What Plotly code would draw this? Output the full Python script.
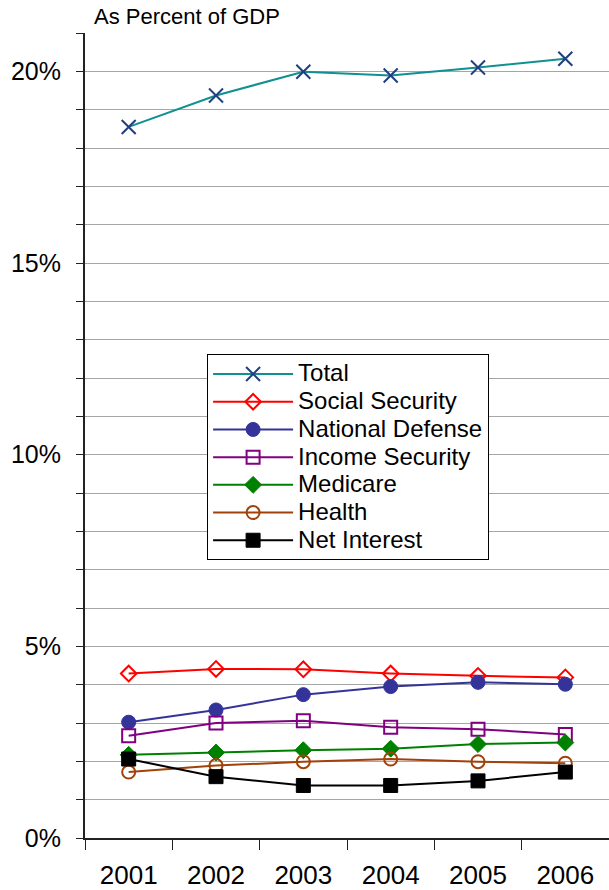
import plotly.graph_objects as go

years = ["2001", "2002", "2003", "2004", "2005", "2006"]
total = [18.55, 19.37, 19.99, 19.89, 20.10, 20.33]
social_security = [4.29, 4.41, 4.40, 4.29, 4.23, 4.19]
national_defense = [3.02, 3.34, 3.74, 3.95, 4.06, 4.01]
income_security = [2.67, 3.00, 3.06, 2.89, 2.84, 2.70]
medicare = [2.17, 2.23, 2.29, 2.33, 2.45, 2.49]
health = [1.72, 1.89, 1.99, 2.06, 1.99, 1.95]
net_interest = [2.06, 1.60, 1.37, 1.37, 1.49, 1.72]

y_tickvals = list(range(0, 22))
y_ticktext = [f"{v}%" if v % 5 == 0 and v <= 20 else "" for v in y_tickvals]

series = [
    ("Total", total, "#109090", dict(symbol="x-thin", size=14, color="#1F3F7F",
                                     line=dict(color="#1F3F7F", width=2))),
    ("Social Security", social_security, "#FF0000", dict(symbol="diamond-open", size=12, color="#FF0000",
                                                         line=dict(color="#FF0000", width=2))),
    ("National Defense", national_defense, "#333399", dict(symbol="circle", size=14, color="#333399",
                                                           line=dict(color="#333399", width=1))),
    ("Income Security", income_security, "#800080", dict(symbol="square-open", size=13, color="#800080",
                                                         line=dict(color="#800080", width=2))),
    ("Medicare", medicare, "#008000", dict(symbol="diamond", size=13, color="#008000",
                                           line=dict(color="#008000", width=1))),
    ("Health", health, "#A0420A", dict(symbol="circle-open", size=13, color="#A0420A",
                                       line=dict(color="#A0420A", width=2))),
    ("Net Interest", net_interest, "#000000", dict(symbol="square", size=14, color="#000000",
                                                   line=dict(color="#000000", width=1))),
]

fig = go.Figure()
for name, vals, lc, mk in series:
    fig.add_trace(go.Scatter(
        x=years, y=vals,
        name=f'<span style="font-size:24px">{name}</span>',
        mode="lines+markers",
        line=dict(color=lc, width=2), marker=mk,
    ))

fig.update_layout(
    width=609, height=890,
    margin=dict(l=85, r=0, t=33, b=52),
    paper_bgcolor="white", plot_bgcolor="white",
    font=dict(family="Liberation Sans, Arial, sans-serif", size=20, color="black"),
    showlegend=True,
    legend=dict(
        x=0.233, y=0.601, xanchor="left", yanchor="top",
        bgcolor="white", bordercolor="black", borderwidth=1,
        font=dict(size=19), tracegroupgap=0, itemwidth=80,
    ),
    annotations=[dict(
        text="As Percent of GDP", xref="paper", yref="paper",
        x=0.013, y=1, xanchor="left", yanchor="bottom", yshift=2,
        showarrow=False, font=dict(size=22, color="black"),
    )],
)

fig.update_xaxes(
    type="category", range=[-0.5, 5.5],
    tickson="boundaries", ticks="outside", ticklen=10, tickcolor="#222222",
    showline=True, linecolor="#222222", linewidth=2,
    showgrid=False, zeroline=False, ticklabelstandoff=13,
    tickfont=dict(size=26),
)
fig.update_yaxes(
    range=[0, 21], tickvals=y_tickvals, ticktext=y_ticktext,
    ticks="outside", ticklen=7, tickcolor="#222222",
    showline=True, linecolor="#222222", linewidth=2,
    showgrid=True, gridcolor="#A6A6A6", gridwidth=1,
    zeroline=False, ticklabelstandoff=10,
    tickfont=dict(size=25),
)

fig.write_html(
    "out.html",
    config={"displayModeBar": False},
    post_script="document.body.style.margin='0';",
)
